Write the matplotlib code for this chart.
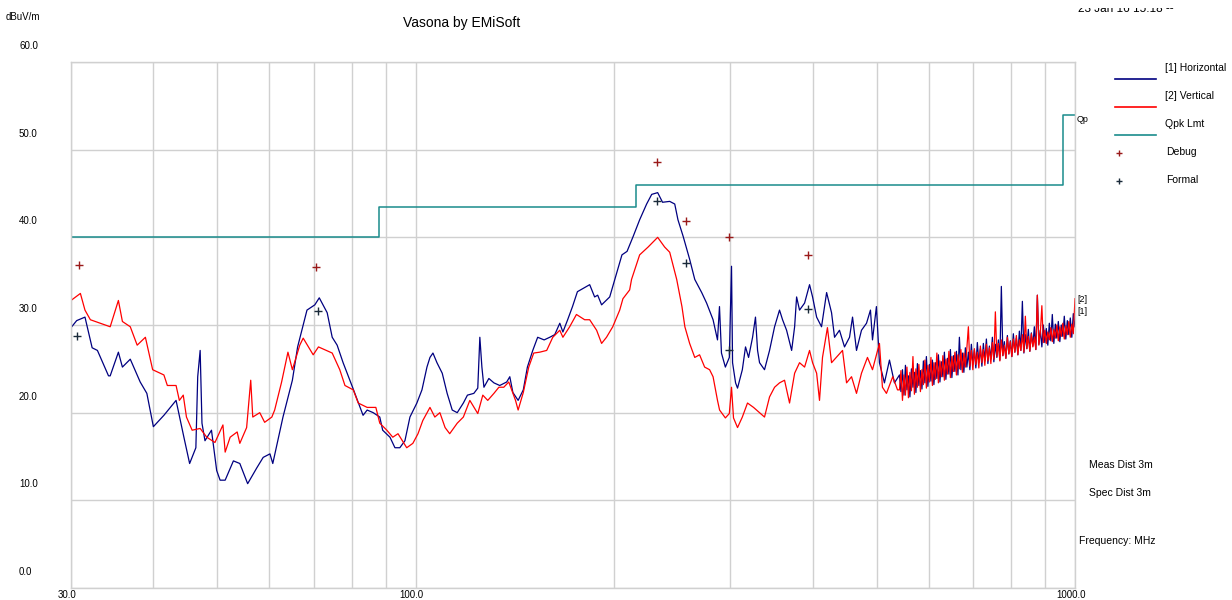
import matplotlib
matplotlib.use("Agg")
import matplotlib.pyplot as plt
from matplotlib.lines import Line2D
from matplotlib.patches import Rectangle
from matplotlib.transforms import blended_transform_factory, offset_copy

plt.rcParams['font.family'] = ['Liberation Sans', 'DejaVu Sans']

# ---- data (MHz, dBuV/m) ----
horiz_freq = [30.0, 30.6, 31.5, 32.3, 32.9, 34.2, 34.4, 35.4, 35.9, 36.9, 38.2, 39.1, 40.0, 41.5,
              43.3, 44.5, 45.4, 46.4, 46.7, 47.1, 47.4, 47.9, 49.0, 49.9, 50.5, 51.4, 52.9, 54.1,
              55.6, 57.4, 58.7, 60.1, 60.7, 62.9, 65.0, 66.2, 68.4, 70.3, 71.4, 73.4, 74.7, 76.0,
              77.6, 80.2, 83.2, 84.4, 86.2, 88.2, 89.1, 91.4, 93.0, 94.6, 96.3, 98.0, 100.4, 102.2,
              104.0, 105.1, 106.2, 107.7, 109.7, 111.6, 113.6, 115.6, 118.1, 119.8, 122.5, 124.2,
              125.1, 126.0, 126.9, 129.1, 131.4, 134.1, 137.4, 138.9, 140.4, 143.0, 145.6, 147.7,
              150.5, 153.1, 156.6, 159.7, 162.5, 165.4, 167.2, 170.0, 172.9, 175.9, 181.6, 183.6,
              186.8, 188.8, 191.4, 196.9, 199.0, 201.8, 205.5, 209.2, 213.7, 218.6, 224.0, 228.0,
              232.8, 236.8, 242.8, 247.1, 249.9, 254.5, 260.3, 265.0, 271.5, 276.2, 282.5, 286.9,
              288.9, 290.9, 294.9, 299.0, 301.3, 302.4, 305.6, 307.7, 312.9, 316.4, 319.8, 324.3,
              327.6, 330.0, 332.3, 338.1, 344.1, 350.2, 356.3, 360.1, 365.2, 371.7, 375.6, 378.2,
              382.1, 388.9, 395.7, 399.9, 405.6, 412.6, 420.0, 427.3, 431.8, 439.3, 447.1, 455.0,
              459.8, 466.2, 474.4, 482.8, 489.5, 493.0, 499.8, 505.1, 514.0, 523.1, 532.3]
horiz_level = [29.7, 30.5, 30.9, 27.4, 27.1, 24.2, 24.2, 26.9, 25.2, 26.1, 23.5, 22.2, 18.4, 19.7,
               21.4, 17.2, 14.2, 16.0, 24.1, 27.1, 18.8, 16.8, 18.0, 13.4, 12.3, 12.3, 14.5, 14.2,
               11.9, 13.7, 14.9, 15.3, 14.2, 19.5, 23.7, 27.5, 31.7, 32.3, 33.1, 31.4, 28.6, 27.7,
               25.7, 22.9, 19.7, 20.3, 20.0, 19.5, 18.0, 17.2, 16.0, 16.0, 16.8, 19.5, 21.1, 22.6,
               25.2, 26.3, 26.8, 25.7, 24.5, 22.2, 20.3, 20.0, 21.1, 22.0, 22.2, 22.8,
               28.6, 25.2, 22.9, 23.9, 23.4, 23.1, 23.5, 24.1, 22.3, 21.4, 22.6, 25.2,
               27.1, 28.6, 28.3, 28.6, 28.9, 30.2, 29.2, 30.6, 32.1, 33.8, 34.4, 34.6,
               33.2, 33.4, 32.3, 33.2, 34.4, 36.0, 38.0, 38.4, 40.1, 42.0, 43.8, 44.9,
               45.1, 44.0, 44.1, 43.8, 42.0, 40.1, 37.5, 35.2, 33.7, 32.5, 30.6, 28.3,
               32.1, 26.8, 25.2, 26.3, 36.7, 25.7, 23.4, 22.8, 24.9, 27.5, 26.3, 28.6,
               30.9, 27.1, 25.7, 24.9, 27.1, 29.8, 31.7, 30.6, 29.4, 27.1, 29.8, 33.2,
               31.7, 32.5, 34.6, 33.2, 30.9, 29.8, 33.7, 31.4, 28.6, 29.4, 27.5, 28.6,
               30.9, 27.1, 29.4, 30.2, 31.7, 28.3, 32.1, 25.7, 23.4, 26.0, 23.4]

vert_freq = [30.0, 31.0, 31.5, 32.1, 34.4, 35.4, 35.9, 36.9, 37.8, 38.9, 39.9, 41.5, 42.0, 43.3,
             43.8, 44.4, 44.9, 45.8, 47.1, 48.2, 49.6, 51.0, 51.4, 52.3, 53.6, 54.1, 55.4, 56.2,
             56.6, 58.0, 59.0, 60.5, 61.1, 62.6, 64.0, 65.0, 66.7, 67.5, 69.9, 71.2, 74.7, 76.7,
             78.1, 80.4, 81.8, 84.4, 87.0, 88.2, 90.4, 92.3, 94.0, 96.9, 99.0, 100.8, 102.5, 105.1,
             106.9, 108.8, 110.8, 112.6, 115.6, 118.1, 120.8, 124.2, 126.4, 128.6, 131.4, 133.7,
             136.0, 138.4, 141.7, 143.0, 145.6, 148.4, 151.0, 154.2, 158.0, 161.4, 165.4, 167.2,
             171.2, 175.3, 180.4, 183.6, 188.1, 191.4, 194.7, 199.0, 203.9, 206.2, 211.1, 212.5,
             218.6, 225.2, 232.8, 238.5, 242.8, 248.8, 253.4, 256.0, 260.3, 265.0, 269.5, 274.3,
             279.1, 282.5, 286.9, 289.0, 294.9, 299.0, 301.3, 303.4, 307.7, 312.9, 318.6, 325.4,
             332.3, 338.1, 344.1, 350.2, 356.3, 362.6, 369.0, 375.6, 382.1, 388.9, 395.7, 399.9,
             405.6, 409.7, 414.0, 421.2, 427.3, 434.4, 444.0, 450.3, 458.2, 466.2, 474.4, 484.4,
             493.0, 505.1, 510.4, 517.6, 529.1, 538.0]
vert_level = [32.8, 33.6, 31.7, 30.6, 29.8, 32.8, 30.4, 29.8, 27.7, 28.6, 24.9, 24.3, 23.1, 23.1,
              21.4, 22.0, 19.5, 18.0, 18.2, 17.2, 16.6, 18.6, 15.5, 17.2, 17.8, 16.5, 18.3, 23.7,
              19.5, 20.0, 18.9, 19.5, 20.3, 23.5, 26.9, 24.9, 27.7, 28.5, 26.6, 27.5, 26.8, 24.9,
              23.1, 22.6, 21.1, 20.6, 20.6, 18.8, 18.0, 17.2, 17.6, 16.0, 16.5, 17.6, 19.1, 20.6,
              19.5, 20.0, 18.3, 17.6, 18.8, 19.5, 21.4, 19.9, 22.0, 21.4, 22.2, 22.9,
              22.9, 23.5, 21.4, 20.3, 22.3, 25.2, 26.8, 26.9, 27.1, 28.6, 29.4, 28.6,
              29.8, 31.2, 30.6, 30.6, 29.4, 27.9, 28.6, 29.8, 31.7, 33.0, 34.0, 35.2,
              38.0, 38.9, 40.0, 38.9, 38.3, 35.2, 32.1, 29.8, 27.9, 26.3, 26.6, 25.2,
              24.9, 24.1, 21.4, 20.3, 19.4, 19.9, 22.9, 19.4, 18.3, 19.5, 21.1, 20.6,
              20.0, 19.5, 21.8, 22.9, 23.4, 23.7, 21.1, 24.5, 25.7, 25.2, 27.1, 25.7,
              24.5, 21.4, 26.3, 29.7, 25.7, 26.3, 27.1, 23.4, 24.1, 22.2, 24.5, 26.3,
              24.9, 27.9, 22.9, 22.2, 24.1, 22.6]

# dense noisy band above ~540 MHz, both polarisations share the sweep points
band_freq = [541.7, 544.5, 547.4, 550.3, 553.1, 556.0, 558.9, 561.8, 564.8, 567.8,
             570.7, 573.7, 576.7, 579.7, 582.8, 585.9, 588.9, 592.0, 595.1, 598.2,
             601.4, 604.6, 607.7, 610.9, 614.1, 617.3, 620.6, 623.9, 627.1, 630.4,
             633.7, 637.0, 640.4, 643.8, 647.1, 650.5, 654.0, 657.4, 660.9, 664.4,
             667.8, 671.3, 674.8, 678.3, 681.9, 685.5, 689.1, 692.7, 696.3, 699.9,
             703.6, 707.3, 711.0, 714.7, 718.6, 722.4, 726.1, 729.9, 733.8, 737.7,
             741.5, 745.4, 749.3, 753.2, 757.2, 761.2, 765.2, 769.2, 773.2, 777.3,
             781.4, 785.5, 789.6, 793.7, 797.9, 802.1, 806.3, 810.5, 814.8, 819.1,
             823.4, 827.7, 832.1, 836.5, 840.8, 845.2, 849.6, 854.1, 858.6, 863.1,
             867.6, 872.2, 876.8, 881.4, 886.0, 890.7, 895.3, 900.0, 904.7, 909.4,
             914.2, 919.0, 923.8, 928.7, 933.6, 938.5, 943.4, 948.4, 953.3, 958.3,
             963.3, 968.4, 973.5, 978.6, 983.7, 988.9, 994.1, 1000.0]
band_horiz = [24.3, 22.4, 24.9, 22.0, 25.4, 22.6, 24.2, 21.8, 25.0, 22.9,
              24.6, 22.3, 25.6, 23.1, 24.8, 22.7, 25.9, 23.4, 26.4, 23.0,
              25.5, 23.6, 26.0, 23.2, 25.7, 23.9, 26.6, 23.5, 25.8, 24.1,
              26.9, 23.8, 26.2, 24.4, 27.2, 24.0, 26.5, 24.7, 27.0, 24.3,
              28.6, 24.9, 26.8, 24.6, 27.4, 25.2, 26.9, 24.9, 27.8, 25.5,
              27.1, 25.1, 28.0, 25.7, 27.3, 25.3, 27.9, 25.9, 28.4, 25.6,
              27.6, 26.1, 28.6, 25.8, 27.8, 26.3, 28.3, 26.0, 34.4, 26.5,
              28.1, 26.2, 28.8, 26.7, 28.2, 26.4, 29.0, 26.9, 28.5, 26.6,
              29.3, 27.1, 32.7, 26.8, 28.9, 27.3, 29.5, 27.0, 29.1, 27.6,
              29.8, 27.2, 33.4, 27.8, 29.4, 27.5, 30.0, 28.0, 29.6, 27.7,
              30.2, 28.2, 31.2, 27.9, 30.1, 28.5, 30.4, 28.1, 30.0, 28.7,
              31.0, 28.4, 30.5, 28.9, 30.8, 28.6, 31.3, 29.8]
band_vert = [22.6, 24.8, 21.4, 24.3, 22.0, 25.2, 21.7, 24.6, 22.5, 26.4,
             22.1, 25.0, 22.9, 25.5, 22.4, 24.9, 23.2, 26.0, 22.8, 25.4,
             23.5, 26.3, 23.1, 25.7, 23.8, 26.8, 23.4, 25.9, 24.1, 26.5,
             23.7, 26.1, 24.4, 27.0, 24.0, 26.4, 24.7, 26.9, 24.3, 26.6,
             25.0, 27.2, 24.6, 26.8, 25.2, 27.4, 29.8, 25.3, 27.1, 24.9,
             27.3, 25.5, 26.9, 25.1, 27.6, 25.7, 27.2, 25.4, 27.8, 25.9,
             27.4, 25.6, 28.0, 26.1, 31.5, 26.4, 27.9, 25.9, 28.3, 26.5,
             27.7, 26.2, 28.6, 26.7, 28.1, 26.4, 28.4, 26.9, 28.8, 26.6,
             28.3, 27.1, 28.9, 26.9, 31.0, 27.3, 28.7, 27.0, 29.0, 27.5,
             28.6, 27.2, 33.4, 27.7, 29.1, 32.2, 28.0, 29.4, 27.9, 29.2,
             28.3, 29.7, 28.1, 29.5, 28.5, 30.0, 28.2, 29.8, 28.7, 30.2,
             28.4, 29.9, 28.9, 30.4, 28.6, 30.1, 29.0, 33.0]

# quasi-peak limit (step edges)
limit_freq = [30, 88, 216, 960, 1000]
limit_level = [40.0, 43.5, 46.0, 54.0, 54.0]

debug_freq = [30.8, 70.7, 232, 257, 299, 394]
debug_level = [36.9, 36.6, 48.6, 41.9, 40.0, 38.0]
formal_freq = [30.6, 71.0, 232, 257, 299, 394]
formal_level = [28.7, 31.6, 44.1, 37.1, 27.1, 31.8]

grid_freqs = [30, 40, 50, 60, 70, 80, 90, 100, 200, 300, 400, 500, 600, 700, 800, 900, 1000]
freq_labels = {30: "30.0", 100: "100.0", 1000: "1000.0"}
level_ticks = [0, 10, 20, 30, 40, 50, 60]

NAVY = '#000080'
RED = '#ff0000'
TEAL = '#1a8c8c'
GRID = '#d0d0d0'
DEBUG_C = '#9a1a1a'
FORMAL_C = '#1a2a3a'

W, H = 1232, 600
fig = plt.figure(figsize=(W / 100, H / 100), dpi=100)
ax = fig.add_axes([71 / W, 12 / H, 1004 / W, 526 / H])
ax.set_xscale('log')
ax.set_xlim(30, 1000)
ax.set_ylim(0, 60)
ax.set_xticks(grid_freqs)
ax.set_xticks([], minor=True)
ax.set_yticks(level_ticks)
ax.tick_params(which='both', length=0, labelbottom=False, labelleft=False)
ax.grid(True, color=GRID, lw=1)
for s in ax.spines.values():
    s.set_color(GRID)
    s.set_linewidth(1)

ax.plot(horiz_freq + band_freq, horiz_level + band_horiz, color=NAVY, lw=0.9)
ax.plot(vert_freq + band_freq, vert_level + band_vert, color=RED, lw=0.9)
ax.step(limit_freq, limit_level, where='post', color=TEAL, lw=1.1)
ax.plot(debug_freq, debug_level, ls='none', marker='+', ms=6, mew=1, color=DEBUG_C)
ax.plot(formal_freq, formal_level, ls='none', marker='+', ms=6, mew=1, color=FORMAL_C)

# tick labels sit a little above the grid lines / left of them
ytrans = offset_copy(blended_transform_factory(fig.transFigure, ax.transData), fig=fig, y=16, units='dots')
for v in level_ticks:
    ax.text(19 / W, v, f"{v:.1f}", transform=ytrans, ha='left', va='center', fontsize=7, clip_on=False)
xtrans = offset_copy(blended_transform_factory(ax.transData, fig.transFigure), fig=fig, x=-4, units='dots')
for f, lab in freq_labels.items():
    ax.text(f, 1 - 595 / H, lab, transform=xtrans, ha='center', va='center', fontsize=7, clip_on=False)

def ftext(x, y, s, **kw):
    kw.setdefault('fontsize', 7.5)
    kw.setdefault('ha', 'left')
    kw.setdefault('va', 'center')
    return fig.text(x / W, 1 - y / H, s, **kw)

ftext(6, 17, "dBuV/m", fontsize=7)
ftext(462, 23, "Vasona by EMiSoft", ha='center', fontsize=10)
ftext(1078, 12, "23 Jan 16 15:18 --", va='baseline', fontsize=8.5)
# the stamp is cut off at the top edge in the original
fig.add_artist(Rectangle((1070 / W, 1 - 8 / H), 160 / W, 8 / H, transform=fig.transFigure,
                         facecolor='white', edgecolor='none', zorder=10))

# legend drawn by hand like the original
legend = [("[1] Horizontal", NAVY, 'line'), ("[2] Vertical", RED, 'line'),
          ("Qpk Lmt", TEAL, 'line'), ("Debug", DEBUG_C, 'mark'), ("Formal", FORMAL_C, 'mark')]
for i, (lab, col, kind) in enumerate(legend):
    ty = 68 + i * 28
    if kind == 'line':
        ftext(1165, ty, lab)
        fig.add_artist(Line2D([1115 / W, 1156 / W], [1 - (ty + 11) / H] * 2, color=col, lw=1.2))
    else:
        ftext(1166, ty, lab)
        fig.add_artist(Line2D([1119 / W], [1 - (ty + 1) / H], ls='none', marker='+', ms=5, mew=1, color=col))

ftext(1077, 120, "Qp", fontsize=6.5)
ftext(1077, 300, "[2]", fontsize=6.5)
ftext(1077, 312, "[1]", fontsize=6.5)
ftext(1089, 465, "Meas Dist 3m")
ftext(1089, 493, "Spec Dist 3m")
ftext(1079, 541, "Frequency: MHz")

fig.savefig("out.png", dpi=100)
